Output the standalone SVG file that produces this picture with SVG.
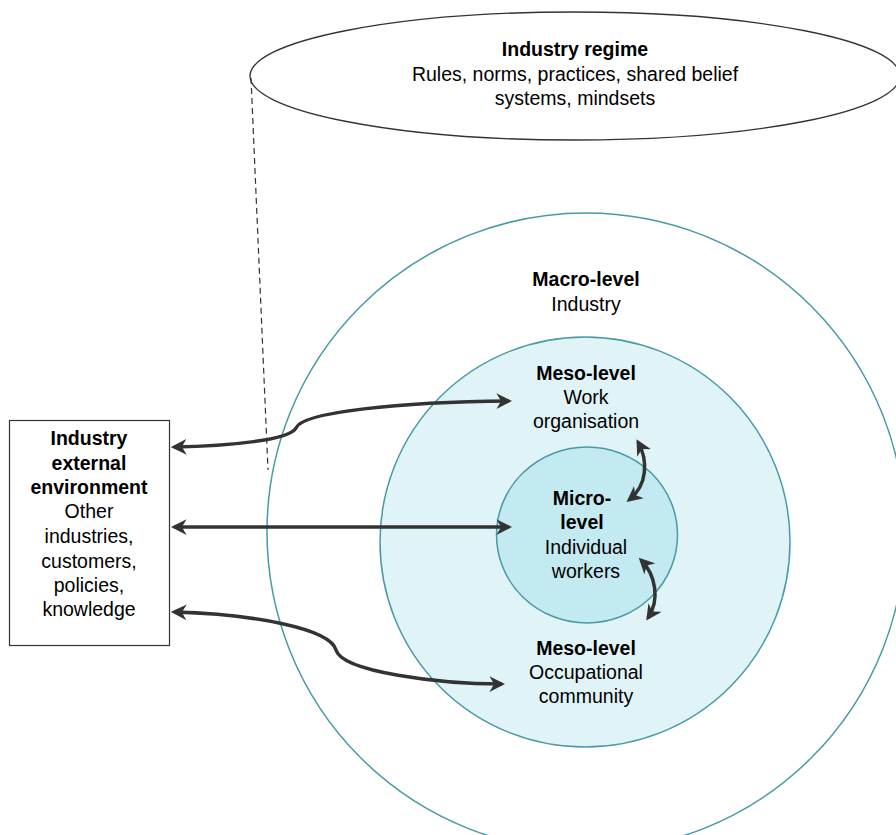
<svg xmlns="http://www.w3.org/2000/svg" width="896" height="835" viewBox="0 0 896 835">
<style>
text{font-family:"Liberation Sans",Arial,sans-serif;font-size:19.5px;fill:#000;text-anchor:middle}
.b{font-weight:bold}
.ring{stroke:#4a9aa5;stroke-width:1.5}
.arr{fill:none;stroke:#333;stroke-width:3.5}
</style>
<defs>
<marker id="ah" viewBox="0 0 10 10" refX="8" refY="5" markerWidth="4.5" markerHeight="4.5" orient="auto-start-reverse" markerUnits="strokeWidth">
<path d="M0,0 L10,5 L0,10 L3,5 z" fill="#333"/>
</marker>
</defs>
<rect width="896" height="835" fill="#fff"/>
<g id="regime">
<ellipse cx="575" cy="76" rx="325" ry="64" fill="#fff" stroke="#333" stroke-width="1.3"/>
<line x1="251" y1="78" x2="268" y2="470" stroke="#333" stroke-width="1.2" stroke-dasharray="6,4"/>
<text x="575" y="56" class="b">Industry regime</text>
<text x="575" y="81">Rules, norms, practices, shared belief</text>
<text x="575" y="105">systems, mindsets</text>
</g>
<g id="macro">
<circle cx="586" cy="532" r="319" fill="#fff" class="ring"/>
<text x="586" y="286" class="b">Macro-level</text>
<text x="586" y="311">Industry</text>
</g>
<g id="meso">
<circle cx="585" cy="542" r="205" fill="#e0f4f8" class="ring"/>
<text x="586" y="380" class="b">Meso-level</text>
<text x="586" y="404">Work</text>
<text x="586" y="428">organisation</text>
<text x="586" y="655" class="b">Meso-level</text>
<text x="586" y="679">Occupational</text>
<text x="586" y="703">community</text>
</g>
<g id="micro">
<ellipse cx="587" cy="535" rx="90.5" ry="88" fill="#c2eaf0" class="ring"/>
<text x="582" y="505" class="b">Micro-</text>
<text x="582" y="529" class="b">level</text>
<text x="586" y="554">Individual</text>
<text x="586" y="578">workers</text>
</g>
<g id="external">
<rect x="9.5" y="420.5" width="160" height="225" fill="#fff" stroke="#333" stroke-width="1.2"/>
<text x="89" y="445" class="b">Industry</text>
<text x="89" y="470" class="b">external</text>
<text x="89" y="494" class="b">environment</text>
<text x="89" y="518">Other</text>
<text x="89" y="543">industries,</text>
<text x="89" y="568">customers,</text>
<text x="89" y="592">policies,</text>
<text x="89" y="616">knowledge</text>
</g>
<g id="connectors">
<path class="arr" d="M174,447 C230,446 290,440 296,428 C302,412 400,402 509,401" marker-start="url(#ah)" marker-end="url(#ah)"/>
<path class="arr" d="M174,527 L509,527" marker-start="url(#ah)" marker-end="url(#ah)"/>
<path class="arr" d="M174,612 C250,614 330,628 336,650 C342,672 440,684 502,684" marker-start="url(#ah)" marker-end="url(#ah)"/>
<path class="arr" d="M638,442 C648,460 648,485 629,500" marker-start="url(#ah)" marker-end="url(#ah)"/>
<path class="arr" d="M641,560 C656,575 660,600 648,618" marker-start="url(#ah)" marker-end="url(#ah)"/>
</g>
</svg>
